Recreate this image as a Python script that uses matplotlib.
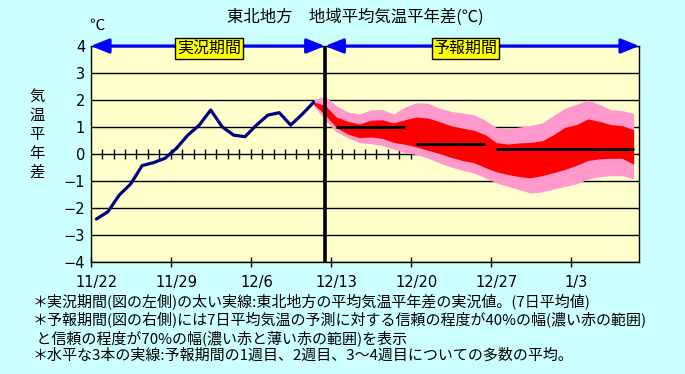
import numpy as np
import matplotlib.pyplot as plt

plt.rcParams['font.family'] = ['Noto Sans CJK JP', 'DejaVu Sans']

# days counted from 11/22, each daily value drawn in the middle of its day
obs_days = np.arange(0, 20) + 0.5
obs_anom = [-2.41, -2.14, -1.52, -1.11, -0.43, -0.32, -0.16, 0.21, 0.70, 1.07,
            1.63, 1.01, 0.70, 0.64, 1.07, 1.44, 1.53, 1.07, 1.47, 1.91]

# forecast ranges 12/11 - 1/8
fc_days = np.arange(19, 48) + 0.5
upper70 = [2.00, 2.15, 1.78, 1.56, 1.48, 1.63, 1.65, 1.48, 1.74, 1.90,
           1.88, 1.70, 1.58, 1.52, 1.46, 1.25, 0.98, 0.94, 1.00, 1.06,
           1.15, 1.44, 1.70, 1.84, 2.00, 1.84, 1.64, 1.61, 1.50]
upper40 = [1.93, 1.80, 1.37, 1.21, 1.11, 1.25, 1.27, 1.15, 1.27, 1.37,
           1.33, 1.20, 1.05, 0.96, 0.88, 0.72, 0.42, 0.37, 0.41, 0.43,
           0.49, 0.72, 0.99, 1.09, 1.30, 1.21, 1.09, 1.05, 0.90]
lower40 = [1.85, 1.45, 0.98, 0.74, 0.60, 0.63, 0.58, 0.43, 0.36, 0.26,
           0.14, 0.02, -0.12, -0.24, -0.32, -0.50, -0.66, -0.76, -0.84, -0.88,
           -0.80, -0.69, -0.57, -0.42, -0.24, -0.18, -0.16, -0.16, -0.38]
lower70 = [1.80, 1.25, 0.82, 0.60, 0.42, 0.38, 0.32, 0.18, 0.05, -0.02,
           -0.15, -0.33, -0.48, -0.60, -0.70, -0.88, -1.07, -1.20, -1.32, -1.45,
           -1.40, -1.30, -1.20, -1.10, -0.93, -0.84, -0.80, -0.80, -0.92]

# ensemble means for week 1, week 2, weeks 3-4
week_start = [21.5, 28.5, 35.5]
week_end = [27.5, 34.5, 47.5]
week_mean = [1.00, 0.38, 0.20]

tick_days = [0, 7, 14, 21, 28, 35, 42]
tick_labels = ['11/22', '11/29', '12/6', '12/13', '12/20', '12/27', '1/3']
y_ticks = [-4, -3, -2, -1, 0, 1, 2, 3, 4]
day_marks = np.arange(1, 29)
split_day = 20.5
last_day = 48

notes = ['＊実況期間(図の左側)の太い実線:東北地方の平均気温平年差の実況値。(7日平均値)',
         '＊予報期間(図の右側)には7日平均気温の予測に対する信頼の程度が40%の幅(濃い赤の範囲)',
         ' と信頼の程度が70%の幅(濃い赤と薄い赤の範囲)を表示',
         '＊水平な3本の実線:予報期間の1週目、2週目、3～4週目についての多数の平均。']

fig = plt.figure(figsize=(6.85, 3.74), dpi=100, facecolor='#CCFFFF')
ax = fig.add_axes([0.1324, 0.2995, 0.8009, 0.5775])
ax.set_facecolor('#FFFFCC')

ax.fill_between(fc_days, lower70, upper70, color='#FF99CC', lw=0, zorder=1)
ax.fill_between(fc_days, lower40, upper40, color='#FF0000', lw=0, zorder=1.1)
ax.plot(obs_days, obs_anom, color='#000080', lw=2.3,
        solid_joinstyle='round', solid_capstyle='round', zorder=3)
ax.hlines(week_mean, week_start, week_end, color='black', lw=2.1, zorder=4)
ax.axvline(split_day, color='black', lw=2.6, zorder=5)
ax.plot(day_marks, np.zeros(len(day_marks)), ls='none', marker='|',
        ms=7, mew=1, color='black', zorder=0.8)

ax.set_xlim(0, last_day)
ax.set_ylim(-4, 4)
ax.set_yticks(y_ticks)
ax.set_yticklabels([str(v).replace('-', '\u2212') for v in y_ticks],
                   fontsize=10.5, family='DejaVu Sans')
ax.tick_params(axis='y', length=0, pad=4)
ax.grid(axis='y', color='black', lw=1)
ax.set_axisbelow(True)

ax.set_xticks(tick_days)
ax.set_xticks([d + 0.5 for d in tick_days], minor=True)
ax.set_xticklabels(tick_labels, minor=True, fontsize=10.5, family='DejaVu Sans')
ax.tick_params(axis='x', which='major', direction='inout', length=7,
               width=1, labelbottom=False)
ax.tick_params(axis='x', which='minor', length=0, pad=9.5)
for s in ax.spines.values():
    s.set_color('black')
    s.set_linewidth(1)

# period arrows along the top
arrow_style = '<|-|>,head_length=0.55,head_width=0.22'
for x0, x1 in [(0, split_day), (split_day, last_day)]:
    ax.annotate('', xy=(x0, 4), xytext=(x1, 4), annotation_clip=False,
                arrowprops=dict(arrowstyle=arrow_style, color='blue', lw=2.2,
                                mutation_scale=20, shrinkA=0, shrinkB=0),
                zorder=6)
box = dict(boxstyle='square,pad=0.12', fc='yellow', ec='black', lw=1)
ax.text(10.35, 3.9, '実況期間', ha='center', va='center', fontsize=11.5,
        bbox=box, zorder=7)
ax.text(32.8, 3.9, '予報期間', ha='center', va='center', fontsize=11.5,
        bbox=box, zorder=7)

fig.text(355 / 685, 1 - 17 / 374, '東北地方　地域平均気温平年差(℃)',
         ha='center', va='center', fontsize=11.8)
fig.text(97 / 685, 1 - 25 / 374, '℃', ha='center', va='center', fontsize=11)
fig.text(37 / 685, 0.640, '気\n温\n平\n年\n差', ha='center', va='center',
         fontsize=11, linespacing=1.15)

fig.text(33 / 685, 1 - 328 / 374, '\n'.join(notes), ha='left', va='center',
         fontsize=10.8, linespacing=1.2)

fig.savefig('out.png', dpi=100, facecolor=fig.get_facecolor())
